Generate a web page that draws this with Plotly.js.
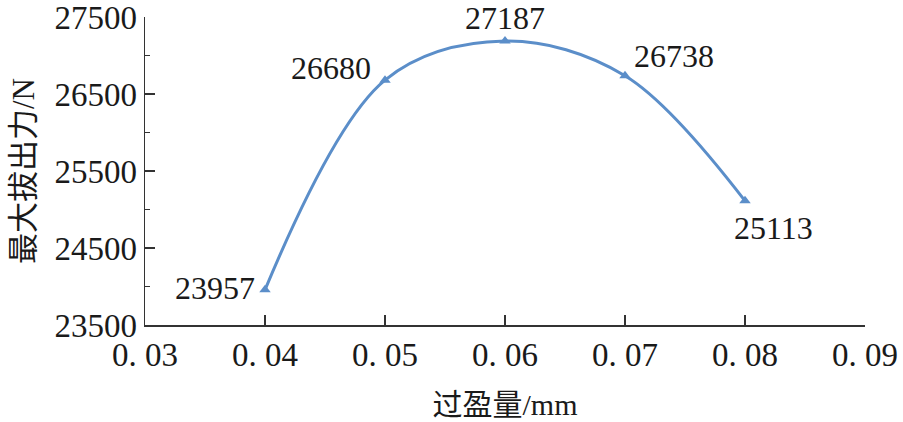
<!DOCTYPE html>
<html>
<head>
<meta charset="utf-8">
<script src="https://cdn.plot.ly/plotly-3.0.1.min.js"></script>
<style>html,body{margin:0;padding:0;background:#fff;}#chart{width:903px;height:422px;}</style>
</head>
<body>
<div id="chart"></div>
<script>
// Data
const interference = [0.04, 0.05, 0.06, 0.07, 0.08];
const pullForce = [23957, 26680, 27187, 26738, 25113];
const xTickVals = [0.03, 0.04, 0.05, 0.06, 0.07, 0.08, 0.09];
const xTickText = ["0. 03", "0. 04", "0. 05", "0. 06", "0. 07", "0. 08", "0. 09"];
const yTickVals = [23500, 24500, 25500, 26500, 27500];
const yTickText = ["23500", "24500", "25500", "26500", "27500"];
const yMinorVals = [24000, 25000, 26000, 27000];
const xTitle = "过盈量/mm";
const yTitle = "最大拔出力/N";

// label placement (style only)
const labelPlace = [
  {xanchor: "right", xshift: -8, yshift: 2},
  {xanchor: "right", xshift: -12, yshift: 12},
  {xanchor: "center", xshift: 0, yshift: 23},
  {xanchor: "left", xshift: 7, yshift: 20},
  {xanchor: "left", xshift: -13, yshift: -27}
];

const FONT = "Liberation Serif, Noto Sans CJK SC, serif";
const lineColor = "#5b8ec9";
const axisColor = "#333333";

const annotations = interference.map((x, i) => ({
  x: x, y: pullForce[i], xref: "x", yref: "y",
  text: String(pullForce[i]), showarrow: false,
  xanchor: labelPlace[i].xanchor, yanchor: "middle",
  xshift: labelPlace[i].xshift, yshift: labelPlace[i].yshift,
  font: {family: FONT, size: 32, color: "#1a1a1a"}
}));

const trace = {
  x: interference, y: pullForce, type: "scatter", mode: "lines+markers",
  line: {color: lineColor, width: 3, shape: "spline", smoothing: 1},
  marker: {symbol: "triangle-up", size: 10, color: lineColor},
  cliponaxis: false, hoverinfo: "skip"
};

const layout = {
  width: 903, height: 422,
  margin: {l: 145, r: 38, t: 17, b: 97},
  paper_bgcolor: "#fff", plot_bgcolor: "#fff",
  showlegend: false,
  font: {family: FONT, color: "#1a1a1a"},
  xaxis: {
    range: [0.03, 0.09], tickvals: xTickVals, ticktext: xTickText,
    showgrid: false, zeroline: false, showline: true, linecolor: axisColor, linewidth: 1.5,
    ticks: "inside", ticklen: 10, tickwidth: 1.5, tickcolor: axisColor,
    ticklabeloverflow: "allow",
    tickfont: {family: FONT, size: 33, color: "#1a1a1a"},
    title: {text: xTitle, font: {family: FONT, size: 30, color: "#1a1a1a"}, standoff: 22}
  },
  yaxis: {
    range: [23500, 27500], tickvals: yTickVals, ticktext: yTickText,
    showgrid: false, zeroline: false, showline: true, linecolor: axisColor, linewidth: 1.5,
    ticks: "inside", ticklen: 10, tickwidth: 1.5, tickcolor: axisColor,
    ticklabeloverflow: "allow",
    minor: {tickvals: yMinorVals, ticks: "inside", ticklen: 5, tickwidth: 1.5, tickcolor: axisColor, showgrid: false},
    tickfont: {family: FONT, size: 33, color: "#1a1a1a"},
    title: {text: yTitle, font: {family: FONT, size: 31, color: "#1a1a1a"}, standoff: 10}
  },
  annotations: annotations
};

Plotly.newPlot("chart", [trace], layout, {staticPlot: true, displayModeBar: false});
</script>
</body>
</html>
